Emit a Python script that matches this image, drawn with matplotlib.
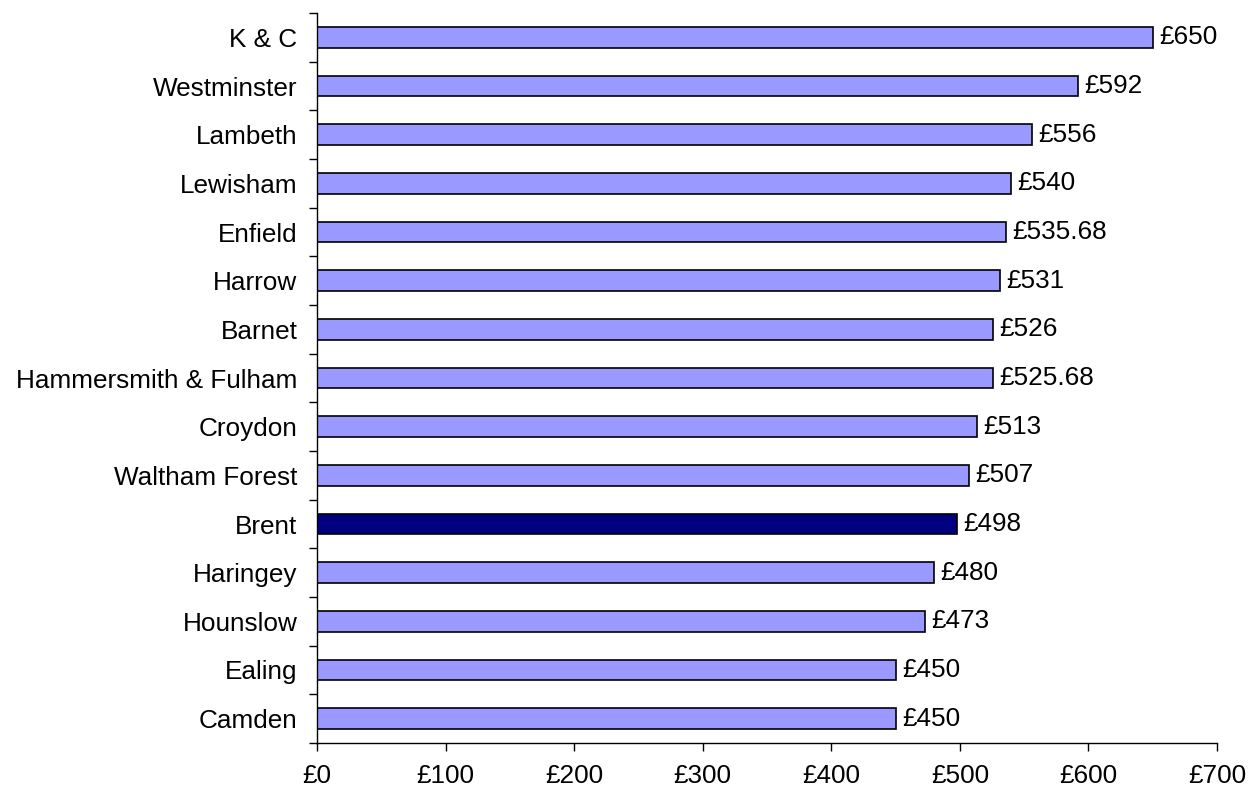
import matplotlib
matplotlib.use("Agg")
import matplotlib.pyplot as plt
from matplotlib.ticker import FixedLocator, FuncFormatter
import numpy as np

plt.rcParams['font.family'] = ['Liberation Sans', 'DejaVu Sans']

categories = ["K & C", "Westminster", "Lambeth", "Lewisham", "Enfield", "Harrow",
              "Barnet", "Hammersmith & Fulham", "Croydon", "Waltham Forest", "Brent",
              "Haringey", "Hounslow", "Ealing", "Camden"]
values = [650, 592, 556, 540, 535.68, 531, 526, 525.68, 513, 507, 498, 480, 473, 450, 450]
value_labels = ["£650", "£592", "£556", "£540", "£535.68", "£531", "£526", "£525.68",
                "£513", "£507", "£498", "£480", "£473", "£450", "£450"]
highlight = "Brent"
x_ticks = [0, 100, 200, 300, 400, 500, 600, 700]

FS = 18.8

fig = plt.figure(figsize=(12.5, 7.9), dpi=100)
ax = fig.add_axes([0.2536, 0.0595, 0.72, 0.924])

n = len(categories)
ypos = np.arange(n)
colors = ["#000080" if c == highlight else "#9999FF" for c in categories]
ax.barh(ypos, values, height=0.43, color=colors, edgecolor="black", linewidth=1.2)

for y, v, lab in zip(ypos, values, value_labels):
    ax.annotate(lab, xy=(v, y), xytext=(4.5, 0), textcoords="offset points",
                va="center", ha="left", fontsize=FS)

ax.set_ylim(n - 0.5, -0.5)
ax.set_xlim(0, 700)
ax.set_yticks(ypos)
ax.set_yticklabels(categories, fontsize=FS)
ax.yaxis.set_minor_locator(FixedLocator(np.arange(-0.5, n, 1.0)))
ax.tick_params(axis="y", which="major", length=0, pad=14)
ax.tick_params(axis="y", which="minor", length=6, color="black", width=1)
ax.set_xticks(x_ticks)
ax.xaxis.set_major_formatter(FuncFormatter(lambda v, p: "£%d" % v))
ax.tick_params(axis="x", length=6, labelsize=FS, pad=9, width=1)

for s in ["top", "right"]:
    ax.spines[s].set_visible(False)
for s in ["left", "bottom"]:
    ax.spines[s].set_color("black")
    ax.spines[s].set_linewidth(1)

fig.savefig("out.png", dpi=100)
